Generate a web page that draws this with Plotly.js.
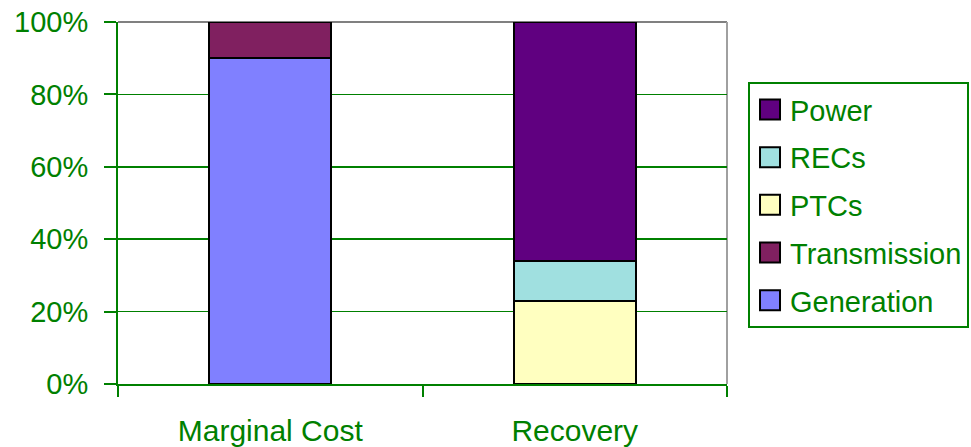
<!DOCTYPE html>
<html>
<head>
<meta charset="utf-8">
<script src="https://cdn.plot.ly/plotly-3.0.1.min.js"></script>
<style>
  html, body { margin: 0; padding: 0; background: #ffffff; }
  #chart { width: 971px; height: 447px; }
</style>
</head>
<body>
<div id="chart"></div>
<script>
// Cost shares (%) for each view
const categories = ["Marginal Cost", "Recovery"];
const generation = [90, 0];
const transmission = [10, 0];
const ptcs = [0, 23];
const recs = [0, 11];
const power = [0, 66];
const yTickVals = [0, 20, 40, 60, 80, 100];
const yTickText = ["0%", "20%", "40%", "60%", "80%", "100%"];

const green = "#008000";
const font = "Liberation Sans, Arial, sans-serif";

function bar(name, values, color, rank) {
  return {
    type: "bar",
    name: name,
    x: categories,
    y: values,
    legendgroup: name,
    legendrank: rank,
    marker: { color: color, line: { color: "#000000", width: 2 } },
    hoverinfo: "skip"
  };
}

// Stacked bottom to top; legend lists the top segment first
const data = [
  bar("Generation", generation, "#8080FF", 5),
  bar("Transmission", transmission, "#802060", 4),
  bar("PTCs", ptcs, "#FFFFC0", 3),
  bar("RECs", recs, "#A0E0E0", 2),
  bar("Power", power, "#600080", 1)
];

const layout = {
  width: 971,
  height: 447,
  barmode: "stack",
  bargap: 0.6,
  paper_bgcolor: "#ffffff",
  plot_bgcolor: "#ffffff",
  margin: { l: 118, r: 244, t: 22, b: 63, pad: 0, autoexpand: false },
  font: { family: font, color: green, size: 29 },
  xaxis: {
    type: "category",
    showline: true,
    linecolor: green,
    linewidth: 2,
    ticks: "outside",
    tickson: "boundaries",
    ticklen: 11,
    tickwidth: 2,
    tickcolor: green,
    ticklabelstandoff: 19,
    tickfont: { family: font, color: green, size: 30 },
    showgrid: false,
    zeroline: false
  },
  yaxis: {
    range: [0, 100],
    tickvals: yTickVals,
    ticktext: yTickText,
    showline: true,
    linecolor: green,
    linewidth: 2,
    ticks: "outside",
    ticklen: 12,
    tickwidth: 2,
    tickcolor: green,
    ticklabelstandoff: 10,
    tickfont: { family: font, color: green, size: 29 },
    showgrid: true,
    gridcolor: green,
    gridwidth: 1.5,
    zeroline: false
  },
  shapes: [
    { type: "line", xref: "paper", yref: "paper", x0: 0, x1: 1, y0: 1, y1: 1,
      line: { color: "#808080", width: 2 }, layer: "below" },
    { type: "line", xref: "paper", yref: "paper", x0: 1, x1: 1, y0: 0, y1: 1,
      line: { color: "#A0A0A0", width: 2 }, layer: "below" }
  ],
  showlegend: true,
  legend: {
    x: 1.0345,
    xanchor: "left",
    y: 0.834,
    yanchor: "top",
    traceorder: "grouped",
    tracegroupgap: 7,
    bordercolor: green,
    borderwidth: 2,
    bgcolor: "#ffffff",
    font: { family: font, color: green, size: 29 },
    itemclick: false
  }
};

Plotly.newPlot("chart", data, layout, { staticPlot: true }).then(function () {
  // Larger square legend swatches
  document.querySelectorAll(".legend .legendpoints path").forEach(function (p) {
    p.setAttribute("d", "M10,10H-10V-10H10Z");
  });
});
</script>
</body>
</html>
